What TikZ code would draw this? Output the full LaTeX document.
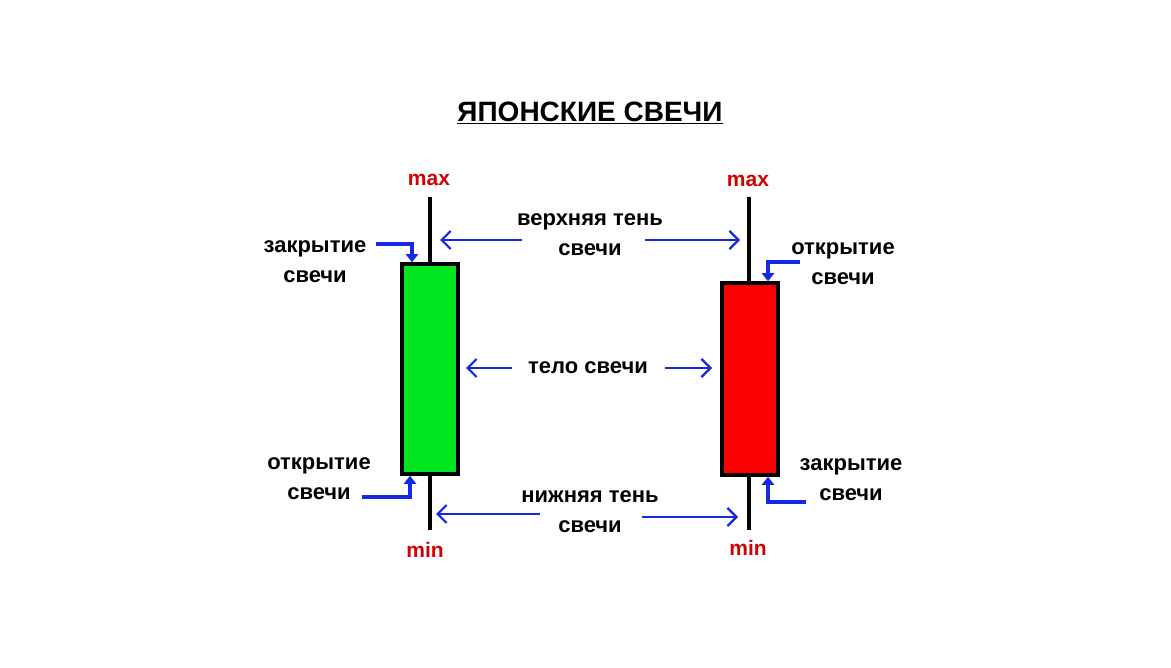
\documentclass[tikz,border=0pt]{standalone}
\usepackage{fontspec}
\setmainfont{Liberation Sans}
\usetikzlibrary{arrows.meta}
\definecolor{candlegreen}{RGB}{0,230,30}
\definecolor{candlered}{RGB}{250,0,0}
\definecolor{labelred}{RGB}{210,0,0}
\definecolor{arrowblue}{RGB}{20,40,230}
\tikzset{
  lbl/.style={font=\fontsize{22}{30}\selectfont\bfseries, inner sep=0pt, align=center},
  extreme/.style={font=\fontsize{21}{24}\selectfont\bfseries, text=labelred, inner sep=0pt},
  wick/.style={line width=4pt},
  candle/.style={draw, line width=3.5pt, inner sep=0pt, minimum width=56pt},
  span/.style={arrowblue, line width=2.2pt, -{Straight Barb[length=9pt,width=18pt,line width=2.2pt]}},
  pointer/.style={arrowblue, line width=4pt, -{Triangle[length=8pt,width=12pt]}}
}
\begin{document}
\begin{tikzpicture}[x=1pt,y=-1pt]
  \useasboundingbox (0,0) rectangle (1171,668);

  \node[font=\fontsize{28}{32}\selectfont\bfseries, inner sep=1pt] (title) at (590,113) {\underline{ЯПОНСКИЕ СВЕЧИ}};

  % left candle
  \draw[wick] (430,197) -- (430,530);
  \node[candle, fill=candlegreen, minimum height=210pt] (bull) at (430,369) {};
  \node[extreme] (maxL) at (429,180) {max};
  \node[extreme] (minL) at (425,550) {min};

  % right candle
  \draw[wick] (749,197) -- (749,530);
  \node[candle, fill=candlered, minimum height=192pt] (bear) at (750,379) {};
  \node[extreme] (maxR) at (748,181) {max};
  \node[extreme] (minR) at (748,548) {min};

  % middle labels
  \node[lbl] (upper) at (590,235) {верхняя тень\\свечи};
  \node[lbl] (body) at (588,368) {тело свечи};
  \node[lbl] (lower) at (590,512) {нижняя тень\\свечи};
  \coordinate (u1) at (522,240); \coordinate (u2) at (440,240);
  \coordinate (u3) at (645,240); \coordinate (u4) at (740,240);
  \coordinate (b1) at (512,368); \coordinate (b2) at (466,368);
  \coordinate (b3) at (665,368); \coordinate (b4) at (712,368);
  \coordinate (l1) at (540,514); \coordinate (l2) at (436,514);
  \coordinate (l3) at (642,517); \coordinate (l4) at (738,517);
  \draw[span] (u1) -- (u2);
  \draw[span] (u3) -- (u4);
  \draw[span] (b1) -- (b2);
  \draw[span] (b3) -- (b4);
  \draw[span] (l1) -- (l2);
  \draw[span] (l3) -- (l4);

  % side labels
  \node[lbl] (closeL) at (315,262) {закрытие\\свечи};
  \node[lbl] (openL) at (319,479) {открытие\\свечи};
  \node[lbl] (openR) at (843,264) {открытие\\свечи};
  \node[lbl] (closeR) at (851,480) {закрытие\\свечи};
  \draw[pointer] (376,244) -| (bull.north -| 412,0);
  \draw[pointer] (362,497) -| (bull.south -| 410,0);
  \draw[pointer] (800,262) -| (bear.north -| 768,0);
  \draw[pointer] (806,502) -| (bear.south -| 768,0);
\end{tikzpicture}
\end{document}
